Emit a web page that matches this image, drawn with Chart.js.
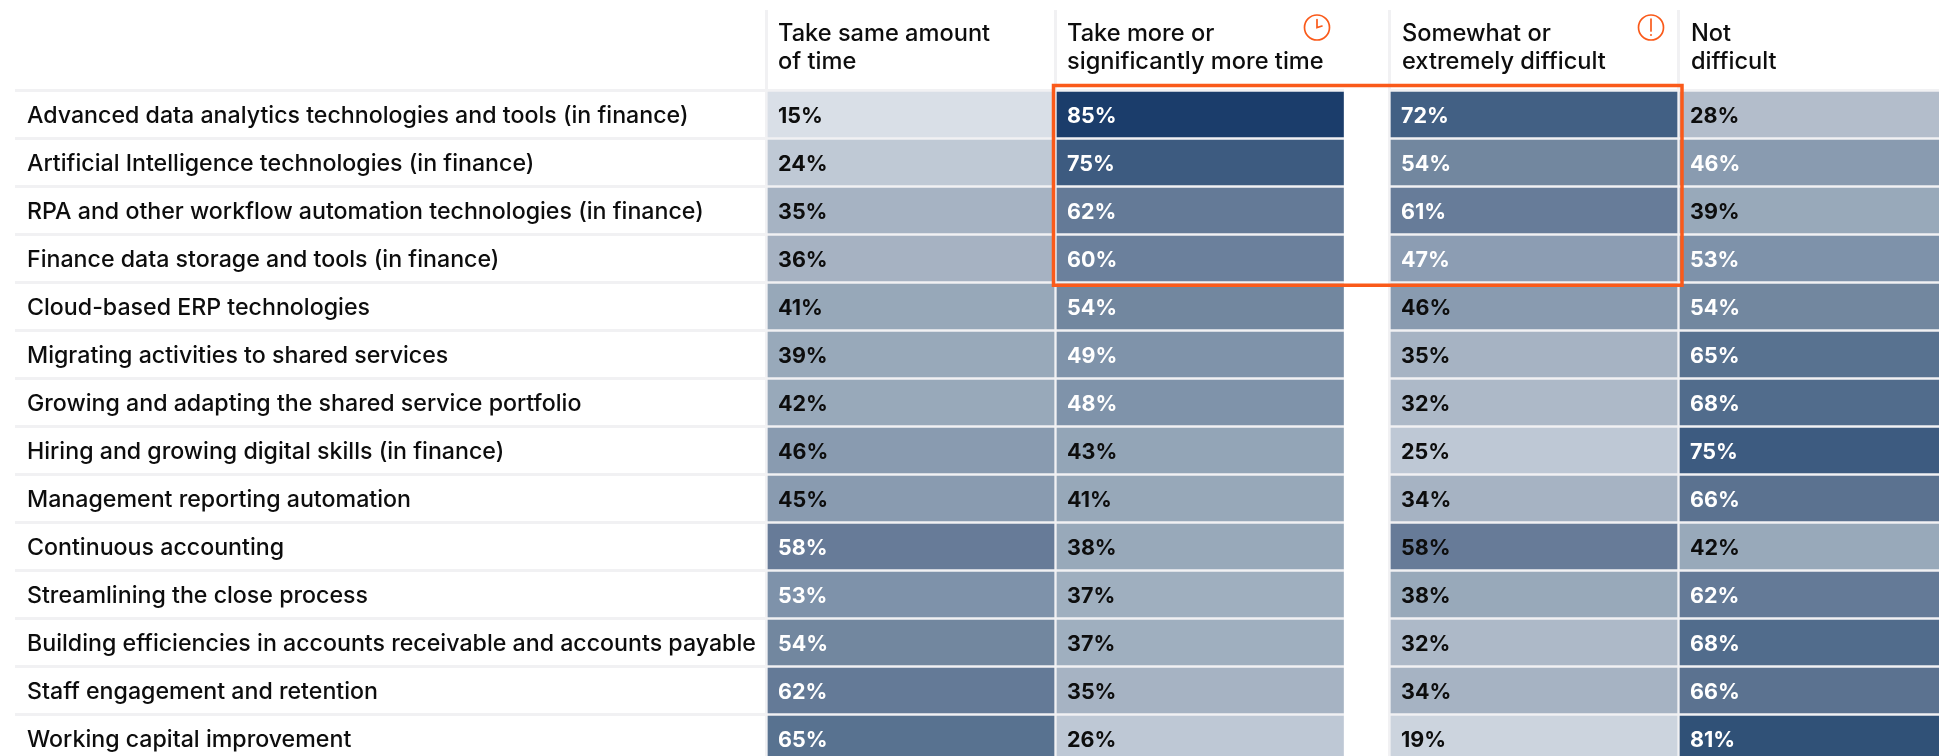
<!DOCTYPE html>
<html>
<head>
<meta charset="utf-8">
<title>Finance initiatives: time and difficulty</title>
<script src="https://cdn.jsdelivr.net/npm/chart.js@4/dist/chart.umd.min.js"></script>
<style>
  html, body { margin: 0; padding: 0; background: #fff; overflow: hidden; }
  #wrap { position: relative; width: 1939px; height: 756px; overflow: hidden; }
  #wrap canvas { display: block; }
</style>
</head>
<body>
<div id="wrap"><canvas id="heat" width="1939" height="764"></canvas></div>
<script>
const categories = [
  "Advanced data analytics technologies and tools (in finance)",
  "Artificial Intelligence technologies (in finance)",
  "RPA and other workflow automation technologies (in finance)",
  "Finance data storage and tools (in finance)",
  "Cloud-based ERP technologies",
  "Migrating activities to shared services",
  "Growing and adapting the shared service portfolio",
  "Hiring and growing digital skills (in finance)",
  "Management reporting automation",
  "Continuous accounting",
  "Streamlining the close process",
  "Building efficiencies in accounts receivable and accounts payable",
  "Staff engagement and retention",
  "Working capital improvement"
];

const sameTime      = [15, 24, 35, 36, 41, 39, 42, 46, 45, 58, 53, 54, 62, 65];
const moreTime      = [85, 75, 62, 60, 54, 49, 48, 43, 41, 38, 37, 37, 35, 26];
const difficult     = [72, 54, 61, 47, 46, 35, 32, 25, 34, 58, 38, 32, 34, 19];
const notDifficult  = [28, 46, 39, 53, 54, 65, 68, 75, 66, 42, 62, 68, 66, 81];

const columnTitles = [
  ["Take same amount", "of time"],
  ["Take more or", "significantly more time"],
  ["Somewhat or", "extremely difficult"],
  ["Not", "difficult"]
];

// Fill for each percentage that occurs in the table.
const shadeValues = [15, 19, 24, 25, 26, 28, 32, 34, 35, 36, 37, 38, 39, 41, 42, 43, 45, 46, 47, 48, 49, 53, 54, 58, 60, 61, 62, 65, 66, 68, 72, 75, 81, 85];
const shadeColours = ["#d9dfe7", "#ccd4de", "#bfc9d5", "#bec8d5", "#bec8d5", "#b3bdcb", "#adb9c8", "#a6b3c3", "#a6b3c3", "#a6b2c2", "#9fafbf", "#98a9ba", "#98a9ba", "#97a8b9", "#98a9ba", "#93a5b7", "#899bb0", "#899bb0", "#8c9db3", "#7f93aa", "#7f93aa", "#7e92aa", "#72879f", "#677b98", "#6b809c", "#677c99", "#647a97", "#587290", "#5b7290", "#516c8c", "#426084", "#3d5b80", "#305177", "#1b3d6b"];

// Horizontal layout, in canvas pixels: [left, right] of each column.
const columnEdges = [[768, 1054], [1057, 1343.5], [1391, 1677], [1680, 1939]];
const dividerCentres = [766.5, 1055.5, 1389.5, 1678.5];
const columnGap = [1344, 1388];
const titleLeft = [778, 1067, 1402, 1691];

const ACCENT = "#fa5a1a";
const RULE = "#f1f1f3";
const INK = "#0d0d0d";
const FONT = "Inter, 'Noto Sans', sans-serif";

const seriesList = [sameTime, moreTime, difficult, notDifficult];

const fillFor = v => shadeColours[shadeValues.indexOf(v)];

// Labels turn white from 47% upward, with two cells set by hand.
function labelColour(col, row) {
  if (col === 2 && row === 9) return INK;
  if (col === 3 && row === 1) return "#fff";
  return seriesList[col][row] >= 47 ? "#fff" : INK;
}

const tablePlugin = {
  id: "tableDecor",
  beforeDatasetsDraw(chart) {
    const { ctx } = chart;
    ctx.save();
    // The row rules stop at the white gap between the two question groups.
    ctx.fillStyle = "#fff";
    ctx.fillRect(columnGap[0], 0, columnGap[1] - columnGap[0], chart.height);
    ctx.fillStyle = RULE;
    dividerCentres.forEach(x => ctx.fillRect(x - 1.5, 10, 3, chart.height - 10));
    // Column headings
    ctx.fillStyle = INK;
    ctx.font = "500 23.6px " + FONT;
    ctx.textAlign = "left";
    ctx.textBaseline = "middle";
    columnTitles.forEach((lines, i) => {
      lines.forEach((line, j) => ctx.fillText(line, titleLeft[i], 34 + j * 28));
    });
    ctx.restore();
  },
  afterDatasetsDraw(chart) {
    const { ctx } = chart;
    ctx.save();
    // Percentage inside every cell
    ctx.font = "700 21.5px " + FONT;
    ctx.textAlign = "left";
    ctx.textBaseline = "middle";
    seriesList.forEach((series, col) => {
      chart.getDatasetMeta(col).data.forEach((bar, row) => {
        ctx.fillStyle = labelColour(col, row);
        ctx.fillText(series[row] + "%", bar.base + 10, bar.y + 2.5);
      });
    });
    // Highlight frame round the first four rows of the middle columns
    ctx.strokeStyle = ACCENT;
    ctx.lineWidth = 3.5;
    ctx.strokeRect(1053.5, 85.5, 628.5, 199.75);
    // Clock icon
    ctx.lineWidth = 1.7;
    ctx.lineCap = "round";
    ctx.beginPath();
    ctx.arc(1317, 27.5, 12.5, 0, Math.PI * 2);
    ctx.stroke();
    ctx.beginPath();
    ctx.moveTo(1317, 19.5);
    ctx.lineTo(1317, 27.5);
    ctx.lineTo(1322, 26);
    ctx.stroke();
    // Warning icon
    ctx.beginPath();
    ctx.arc(1651, 27.5, 12.5, 0, Math.PI * 2);
    ctx.stroke();
    ctx.beginPath();
    ctx.moveTo(1651, 19);
    ctx.lineTo(1651, 31);
    ctx.stroke();
    ctx.fillStyle = ACCENT;
    ctx.beginPath();
    ctx.arc(1651, 35, 1, 0, Math.PI * 2);
    ctx.fill();
    ctx.restore();
  }
};

new Chart(document.getElementById("heat"), {
  type: "bar",
  plugins: [tablePlugin],
  data: {
    labels: categories,
    datasets: seriesList.map((series, col) => ({
      label: columnTitles[col].join(" "),
      data: series.map(() => columnEdges[col]),
      backgroundColor: ctx => fillFor(series[ctx.dataIndex]),
      borderWidth: 0,
      barThickness: 45,
      grouped: false
    }))
  },
  options: {
    indexAxis: "y",
    responsive: false,
    animation: false,
    events: [],
    layout: { padding: { left: 15, top: 90.5, bottom: 1.5, right: 0 } },
    plugins: { legend: { display: false }, tooltip: { enabled: false } },
    scales: {
      x: { type: "linear", min: 15, max: 1939, display: false },
      y: {
        type: "category",
        border: { display: false },
        grid: { color: RULE, lineWidth: 3, drawTicks: false, offset: true },
        // Labels sit inside the plot area, so the axis reserves no room of its own.
        afterFit(scale) {
          scale.width = 0;
          scale.paddingTop = 0;
          scale.paddingBottom = 0;
        },
        ticks: {
          mirror: true,
          padding: 12,
          labelOffset: 2,
          color: INK,
          autoSkip: false,
          font: { family: FONT, size: 23.2, weight: "500" }
        }
      }
    }
  }
});
</script>
</body>
</html>
